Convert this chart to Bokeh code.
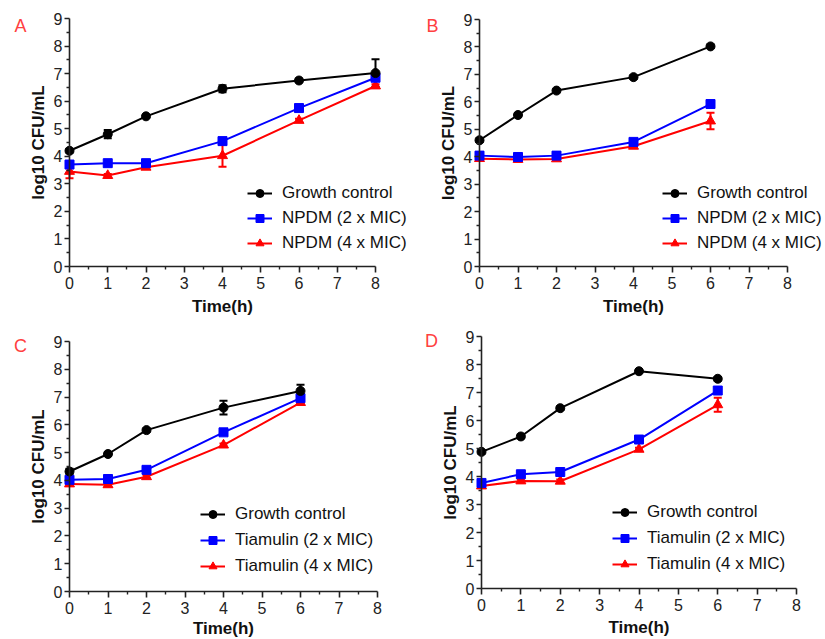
from bokeh.plotting import figure
from bokeh.layouts import gridplot
from bokeh.models import (Legend, LegendItem, Whisker, ColumnDataSource, Label,
                          TeeHead, FixedTicker, Range1d)
from bokeh.embed import file_html
from bokeh.resources import INLINE

# ---------------- data ----------------
x_ticks = [0, 1, 2, 3, 4, 5, 6, 7, 8]
y_ticks = [0, 1, 2, 3, 4, 5, 6, 7, 8, 9]

time_A = [0, 1, 2, 4, 6, 8]
A_gc = [4.2, 4.8, 5.45, 6.45, 6.75, 7.02]
A_gc_err = [0.06, 0.15, 0.06, 0.13, 0.06, 0.5]
A_2x = [3.7, 3.75, 3.75, 4.55, 5.75, 6.85]
A_2x_err = [0.06, 0.06, 0.06, 0.1, 0.06, 0.1]
A_4x = [3.45, 3.3, 3.6, 4.02, 5.3, 6.55]
A_4x_err = [0.25, 0.06, 0.06, 0.4, 0.06, 0.06]

time_B = [0, 1, 2, 4, 6]
B_gc = [4.6, 5.52, 6.41, 6.9, 8.02]
B_gc_err = [0.06, 0.06, 0.06, 0.06, 0.06]
B_2x = [4.04, 3.99, 4.04, 4.54, 5.92]
B_2x_err = [0.06, 0.06, 0.06, 0.06, 0.08]
B_4x = [3.93, 3.9, 3.92, 4.38, 5.3]
B_4x_err = [0.06, 0.08, 0.06, 0.06, 0.3]

time_C = [0, 1, 2, 4, 6]
C_gc = [4.32, 4.95, 5.81, 6.62, 7.22]
C_gc_err = [0.1, 0.06, 0.06, 0.25, 0.22]
C_2x = [4.02, 4.05, 4.38, 5.73, 6.96]
C_2x_err = [0.06, 0.06, 0.06, 0.06, 0.06]
C_4x = [3.87, 3.84, 4.13, 5.27, 6.8]
C_4x_err = [0.06, 0.06, 0.06, 0.06, 0.06]

time_D = [0, 1, 2, 4, 6]
D_gc = [4.88, 5.43, 6.44, 7.76, 7.49]
D_gc_err = [0.06, 0.06, 0.06, 0.06, 0.06]
D_2x = [3.77, 4.08, 4.16, 5.32, 7.07]
D_2x_err = [0.08, 0.08, 0.06, 0.06, 0.08]
D_4x = [3.66, 3.84, 3.83, 4.97, 6.56]
D_4x_err = [0.06, 0.06, 0.06, 0.06, 0.25]

names_NPDM = ["Growth control", "NPDM (2 x MIC)", "NPDM (4 x MIC)"]
names_TIA = ["Growth control", "Tiamulin (2 x MIC)", "Tiamulin (4 x MIC)"]
letters = ["A", "B", "C", "D"]

FONT = "Liberation Sans"
COLORS = ["#000000", "#0000ff", "#ff0000"]
MARKERS = ["circle", "square", "triangle"]
SIZES = [9, 9, 10]


def make_panel(letter, t, series, errs, names, W, H, px0, px8, py9, py0,
               letter_px, letter_py, leg_x, leg_y, leg_spacing, xlab_standoff):
    """Frame covers the whole canvas; axes are fixed at x=0 / y=0.
    px0/px8: canvas pixel of x=0 / x=8; py9/py0: canvas pixel of y=9 / y=0."""
    ux = (px8 - px0) / 8.0
    uy = (py0 - py9) / 9.0
    xr = Range1d(-px0 / ux, 8 + (W - px8) / ux)
    yr = Range1d(-(H - py0) / uy, 9 + py9 / uy)
    p = figure(width=W, height=H, output_backend="svg", toolbar_location=None,
               x_range=xr, y_range=yr)
    p.min_border = 0
    p.outline_line_color = None
    p.xgrid.visible = False
    p.ygrid.visible = False
    p.background_fill_color = "white"
    p.border_fill_color = "white"

    renderers = []
    for i in [2, 1, 0]:  # red first, black on top
        vals = series[i]
        e = errs[i]
        src = ColumnDataSource(dict(x=t, y=vals,
                                    upper=[v + d for v, d in zip(vals, e)],
                                    lower=[v - d for v, d in zip(vals, e)]))
        w = Whisker(source=src, base="x", upper="upper", lower="lower",
                    line_color=COLORS[i], line_width=2,
                    upper_head=TeeHead(size=8, line_color=COLORS[i], line_width=2),
                    lower_head=TeeHead(size=8, line_color=COLORS[i], line_width=2))
        p.add_layout(w)
        lr = p.line("x", "y", source=src, line_color=COLORS[i], line_width=2)
        sr = p.scatter("x", "y", source=src, marker=MARKERS[i], size=SIZES[i],
                       fill_color=COLORS[i], line_color=COLORS[i])
        renderers.append((i, lr, sr))
    renderers.sort(key=lambda r: r[0])

    items = [LegendItem(label=names[i], renderers=[lr, sr]) for i, lr, sr in renderers]
    leg = Legend(items=items, location=(leg_x, leg_y), padding=0, margin=0,
                 spacing=leg_spacing, glyph_width=25, glyph_height=20,
                 label_standoff=10, label_text_font=FONT,
                 label_text_font_size="17px", label_text_color="#111111",
                 border_line_alpha=0, background_fill_alpha=0)
    p.add_layout(leg)

    for ax in (p.xaxis[0], p.yaxis[0]):
        ax.axis_line_width = 1.6
        ax.axis_line_color = "#222222"
        ax.major_tick_line_color = "#222222"
        ax.major_tick_line_width = 1.6
        ax.minor_tick_line_color = "#222222"
        ax.minor_tick_line_width = 1.4
        ax.major_tick_in = 0
        ax.minor_tick_in = 0
        ax.major_label_text_font = FONT
        ax.major_label_text_font_size = "16px"
        ax.major_label_text_color = "#222222"
        ax.axis_label_text_font = FONT
        ax.axis_label_text_font_size = "17px"
        ax.axis_label_text_font_style = "bold"
        ax.axis_label_text_color = "#111111"

    p.xaxis.ticker = FixedTicker(ticks=x_ticks,
                                 minor_ticks=[v + 0.5 for v in x_ticks[:-1]])
    p.yaxis.ticker = FixedTicker(ticks=y_ticks,
                                 minor_ticks=[v + 0.5 for v in y_ticks[:-1]])
    p.xaxis.bounds = (x_ticks[0], x_ticks[-1])
    p.yaxis.bounds = (y_ticks[0], y_ticks[-1])
    p.xaxis.fixed_location = y_ticks[0]
    p.yaxis.fixed_location = x_ticks[0]
    p.xaxis.major_tick_out = 6
    p.xaxis.minor_tick_out = 3
    p.yaxis.major_tick_out = 5
    p.yaxis.minor_tick_out = 3
    p.xaxis.major_label_standoff = 4
    p.yaxis.major_label_standoff = 2
    p.xaxis.axis_label = "Time(h)"
    p.yaxis.axis_label = "log10 CFU/mL"
    p.xaxis.axis_label_standoff = xlab_standoff
    p.yaxis.axis_label_standoff = 3

    lx = (letter_px - px0) / ux
    ly = (py0 - letter_py) / uy
    p.add_layout(Label(x=lx, y=ly, text=letter, text_font=FONT,
                       text_font_size="18px", text_color="#ff4040",
                       text_align="center", text_baseline="middle"))
    return p


pA = make_panel(letters[0], time_A, [A_gc, A_2x, A_4x], [A_gc_err, A_2x_err, A_4x_err],
                names_NPDM, 410, 318, 69, 375, 18, 266, 20, 25, 247, 65, 5, 5)
pB = make_panel(letters[1], time_B, [B_gc, B_2x, B_4x], [B_gc_err, B_2x_err, B_4x_err],
                names_NPDM, 415, 318, 69, 377, 19, 266, 22, 25, 252, 65, 5, 5)
pC = make_panel(letters[2], time_C, [C_gc, C_2x, C_4x], [C_gc_err, C_2x_err, C_4x_err],
                names_TIA, 410, 321, 69, 377, 23, 273, 20, 27, 200, 63, 6, 2)
pD = make_panel(letters[3], time_D, [D_gc, D_2x, D_4x], [D_gc_err, D_2x_err, D_4x_err],
                names_TIA, 415, 321, 71, 386, 18, 270, 21, 22, 202, 65, 6, 4)

grid = gridplot([[pA, pB], [pC, pD]], toolbar_location=None)

open("out.html", "w").write(file_html(grid, INLINE))
